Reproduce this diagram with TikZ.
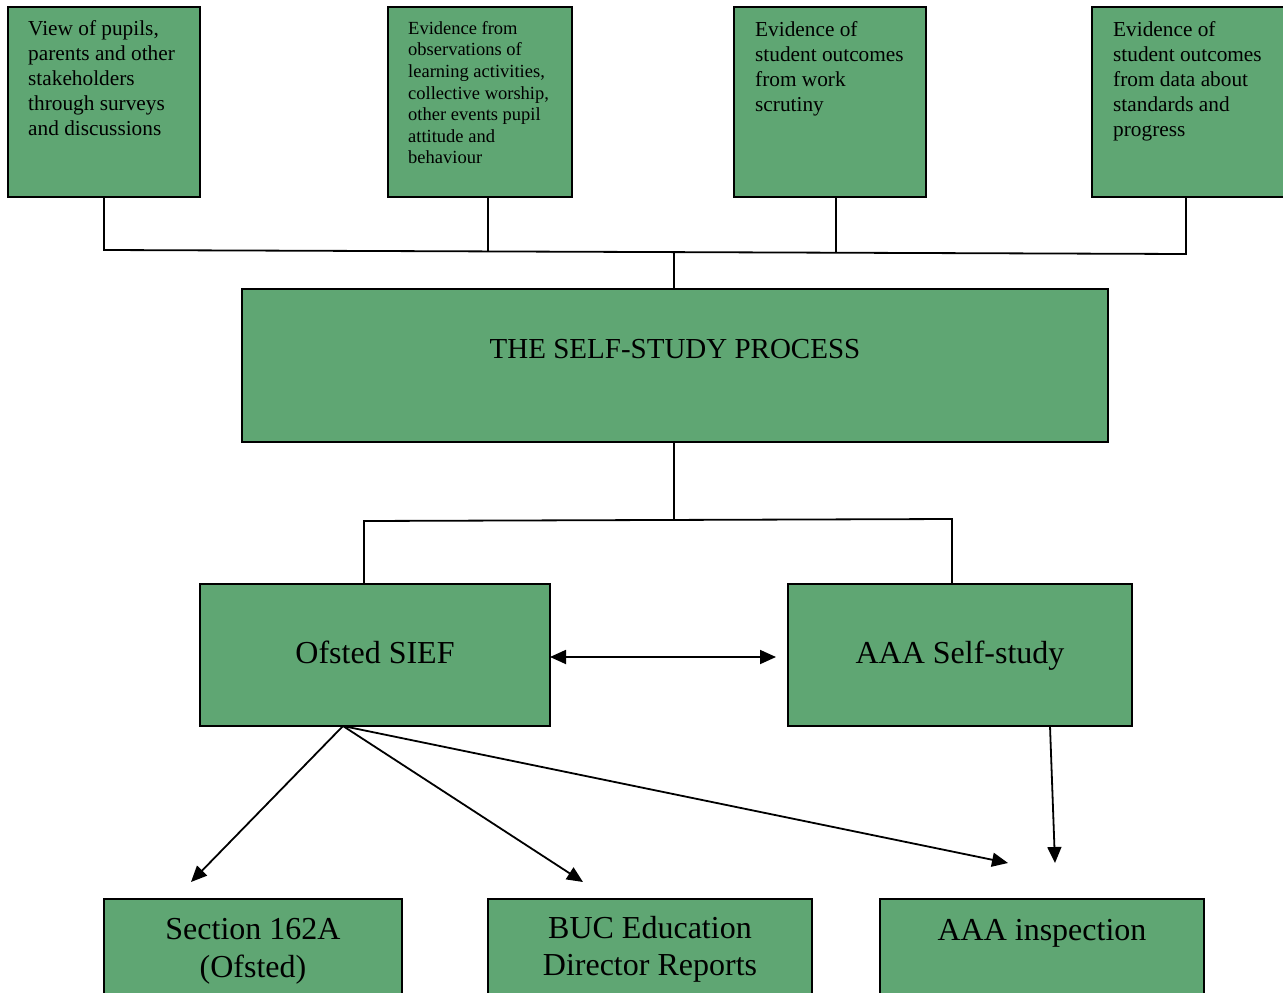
\documentclass[tikz,border=0pt]{standalone}
\usepackage{fontspec}
\setmainfont{Liberation Serif}
\usetikzlibrary{arrows.meta,calc}
\definecolor{boxgreen}{RGB}{95,166,115}
\tikzset{
  box/.style={draw=black, line width=2pt, fill=boxgreen, inner sep=0pt},
  conn/.style={line width=1.8pt, draw=black},
  arr/.style={conn, -{Triangle[length=16pt,width=14pt]}},
  dbl/.style={conn, {Triangle[length=16pt,width=14pt]}-{Triangle[length=16pt,width=14pt]}},
  toptext/.style={anchor=north west, inner sep=0pt, align=left, font=\fontsize{21.3}{25}\selectfont},
  smalltext/.style={anchor=north west, inner sep=0pt, align=left, font=\fontsize{18.5}{21.6}\selectfont},
  midtext/.style={inner sep=0pt, align=center, font=\fontsize{29}{34}\selectfont},
  bigtext/.style={inner sep=0pt, align=center, font=\fontsize{32}{37.5}\selectfont},
}
\begin{document}
\begin{tikzpicture}[x=1pt,y=-1pt]
\useasboundingbox (0,0) rectangle (1283,993);
\clip (0,0) rectangle (1283,993);
% top boxes
\node[box, minimum width=192pt, minimum height=190pt] (b1) at (104,102) {};
\node[box, minimum width=184pt, minimum height=190pt] (b2) at (480,102) {};
\node[box, minimum width=192pt, minimum height=190pt] (b3) at (830,102) {};
\node[box, minimum width=200pt, minimum height=190pt] (b4) at (1192,102) {};
\node[toptext] (t1) at (28,20) {View of pupils,\\parents and other\\stakeholders\\through surveys\\and discussions};
\node[smalltext] (t2) at (408,21) {Evidence from\\observations of\\learning activities,\\collective worship,\\other events pupil\\attitude and\\behaviour};
\node[toptext] (t3) at (755,21) {Evidence of\\student outcomes\\from work\\scrutiny};
\node[toptext] (t4) at (1113,21) {Evidence of\\student outcomes\\from data about\\standards and\\progress};
% main box
\node[box, minimum width=866pt, minimum height=153pt] (main) at (675,365.5) {};
\node[midtext] (mt) at (675,349) {THE SELF-STUDY PROCESS};
% middle boxes
\node[box, minimum width=350pt, minimum height=142pt] (ofs) at (375,655) {};
\node[bigtext, anchor=base] (ofst) at (375,663) {Ofsted SIEF};
\node[box, minimum width=344pt, minimum height=142pt] (aaa) at (960,655) {};
\node[bigtext, anchor=base] (aaat) at (960,663) {AAA Self-study};
% bottom boxes
\node[box, minimum width=298pt, minimum height=120pt] (sec) at (253,959) {};
\node[bigtext] (sect) at (253,951.5) {Section 162A\\(Ofsted)};
\node[box, minimum width=324pt, minimum height=120pt] (buc) at (650,959) {};
\node[bigtext] (buct) at (650,949.5) {BUC Education\\Director Reports};
\node[box, minimum width=324pt, minimum height=120pt] (ins) at (1042,959) {};
\node[bigtext] (inst) at (1042,933) {AAA inspection};
% coordinates for top tree
\coordinate (j1) at (104,250);
\coordinate (j2) at (488,251.4);
\coordinate (j3) at (836,252.7);
\coordinate (j4) at (1186,254);
\coordinate (jm) at (674,252.1);
\coordinate (b2s) at (488,197);
\coordinate (b3s) at (836,197);
\coordinate (b4s) at (1186,197);
\coordinate (mn) at (674,289);
\draw[conn] (b1.south) -- (j1) -- (j4) -- (b4s);
\draw[conn] (b2s) -- (j2);
\draw[conn] (b3s) -- (j3);
\draw[conn] (jm) -- (mn);
% lower tree
\coordinate (ms) at (674,442);
\coordinate (k0) at (674,520);
\coordinate (kl) at (364,521);
\coordinate (kr) at (952,519);
\coordinate (ofn) at (364,584);
\coordinate (aan) at (952,584);
\draw[conn] (ms) -- (k0);
\draw[conn] (ofn) -- (kl) -- (kr) -- (aan);
% double arrow
\coordinate (ofe) at (550,657);
\coordinate (dr) at (776,657);
\draw[dbl] (ofe) -- (dr);
% arrows out of Ofsted SIEF
\coordinate (os) at (343,726);
\coordinate (e1) at (191,882);
\coordinate (e2) at (583,882);
\coordinate (e3) at (1008,863);
\draw[arr] (os) -- (e1);
\draw[arr] (os) -- (e2);
\draw[arr] (os) -- (e3);
\coordinate (as) at (1050,726);
\coordinate (e4) at (1055,863);
\draw[arr] (as) -- (e4);
\end{tikzpicture}
\end{document}
